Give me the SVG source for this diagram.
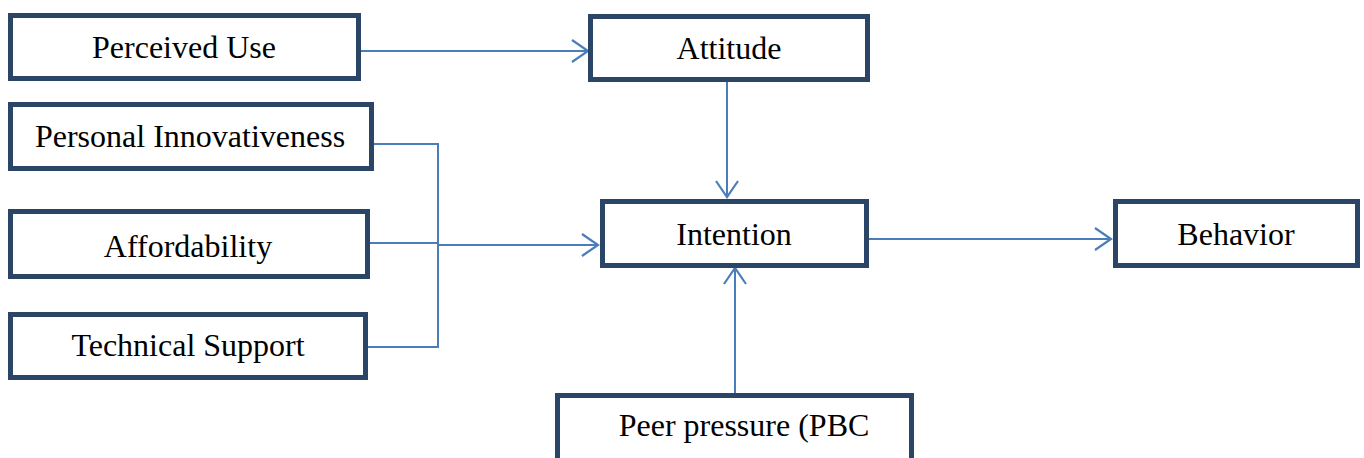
<svg xmlns="http://www.w3.org/2000/svg" width="1364" height="458" viewBox="0 0 1364 458">
<defs>
<marker id="ah" markerWidth="20" markerHeight="24" refX="17" refY="12" orient="auto" markerUnits="userSpaceOnUse">
<path d="M1,1 L17,12 L1,23" fill="none" stroke="#4a7ebb" stroke-width="2.2"/>
</marker>
</defs>
<style>
.box{fill:#fff;stroke:#2a4566;stroke-width:5}
.lbl{font-family:"Liberation Serif","Times New Roman",serif;font-size:32px;fill:#000;text-anchor:middle}
.ln{fill:none;stroke:#4a7ebb;stroke-width:2}
</style>
<rect width="1364" height="458" fill="#fff"/>
<g id="connectors">
<line class="ln" x1="358" y1="51" x2="588" y2="51" marker-end="url(#ah)"/>
<line class="ln" x1="727" y1="80" x2="727" y2="197" marker-end="url(#ah)"/>
<polyline class="ln" points="370,144 438,144 438,347 366,347"/>
<line class="ln" x1="368" y1="243" x2="438" y2="243"/>
<line class="ln" x1="438" y1="245" x2="598" y2="245" marker-end="url(#ah)"/>
<line class="ln" x1="866" y1="239" x2="1111" y2="239" marker-end="url(#ah)"/>
<line class="ln" x1="735" y1="394" x2="735" y2="268" marker-end="url(#ah)"/>
</g>
<g id="perceived-use"><rect class="box" x="10.5" y="15.5" width="348" height="63"/><text class="lbl" x="184" y="58">Perceived Use</text></g>
<g id="attitude"><rect class="box" x="590.5" y="16.5" width="277" height="63"/><text class="lbl" x="729" y="59">Attitude</text></g>
<g id="personal-innovativeness"><rect class="box" x="10.5" y="104.5" width="361" height="64"/><text class="lbl" x="190" y="147">Personal Innovativeness</text></g>
<g id="affordability"><rect class="box" x="10.5" y="211.5" width="357" height="65"/><text class="lbl" x="188" y="257">Affordability</text></g>
<g id="technical-support"><rect class="box" x="10.5" y="314.5" width="355" height="63"/><text class="lbl" x="188" y="356">Technical Support</text></g>
<g id="intention"><rect class="box" x="602.5" y="201.5" width="264" height="64"/><text class="lbl" x="734" y="245">Intention</text></g>
<g id="behavior"><rect class="box" x="1115.5" y="201.5" width="242" height="64"/><text class="lbl" x="1236" y="245">Behavior</text></g>
<g id="peer-pressure"><rect class="box" x="557.5" y="395.5" width="354" height="70"/><text class="lbl" x="744" y="436">Peer pressure (PBC</text></g>
</svg>
